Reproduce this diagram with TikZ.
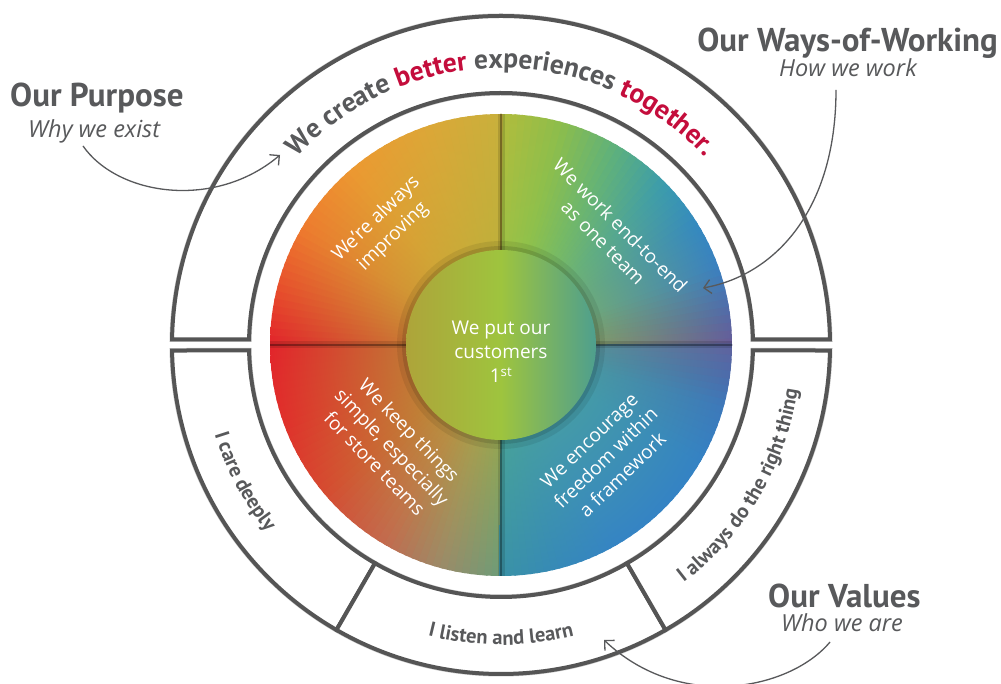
\documentclass[tikz,border=0pt]{standalone}
\usepackage{fontspec}
\setmainfont{Open Sans}
\newfontfamily\pts{PT Sans}
\usetikzlibrary{arrows.meta,decorations.text,calc}
\definecolor{tgray}{HTML}{58595B}
\definecolor{ringgray}{HTML}{555555}
\definecolor{tred}{HTML}{C40D3C}
% angular edge colours
\definecolor{s000}{HTML}{6A5A96}\definecolor{s008}{HTML}{5468A6}\definecolor{s020}{HTML}{3A80C0}
\definecolor{s032}{HTML}{3489C0}\definecolor{s045}{HTML}{3A9BAE}\definecolor{s060}{HTML}{5CB07E}
\definecolor{s075}{HTML}{8CBD4C}\definecolor{s090r}{HTML}{B2BC3C}
\definecolor{s090l}{HTML}{C8B03C}\definecolor{s110}{HTML}{DDA637}\definecolor{s130}{HTML}{EC9931}
\definecolor{s150}{HTML}{EE7A2E}\definecolor{s165}{HTML}{E8512C}\definecolor{s180}{HTML}{E2242B}
\definecolor{s200}{HTML}{E0302B}\definecolor{s220}{HTML}{D64A30}\definecolor{s240}{HTML}{C36A4E}
\definecolor{s255}{HTML}{9C8A68}\definecolor{s270l}{HTML}{6E9C78}
\definecolor{s270r}{HTML}{3A92A6}\definecolor{s285}{HTML}{3689B8}\definecolor{s300}{HTML}{3584C4}
\definecolor{s330}{HTML}{3482C4}\definecolor{s345}{HTML}{3D78BA}\definecolor{s352}{HTML}{4B6CAC}
\definecolor{s360}{HTML}{5F629F}
\definecolor{cTL}{HTML}{B8B03A}\definecolor{cTR}{HTML}{92C44A}
\definecolor{cBL}{HTML}{ADAC3C}\definecolor{cBR}{HTML}{50AC92}
\definecolor{cenL}{HTML}{AEA43A}\definecolor{cenM}{HTML}{9EC43E}\definecolor{cenR}{HTML}{4E9F8E}
\newcommand\wseg[5]{%
  \pgfmathsetmacro\nsteps{int(ceil((#2-#1)/2))}%
  \foreach \k in {1,...,\nsteps}{%
    \pgfmathsetmacro\aa{#1+(\k-1)*(#2-#1)/\nsteps-0.4}%
    \pgfmathsetmacro\bb{#1+\k*(#2-#1)/\nsteps+0.4}%
    \pgfmathsetmacro\pp{int(100*(\k-0.5)/\nsteps)}%
    \colorlet{ec}{#4!\pp!#3}%
    \begin{scope}
      \clip (C) -- ($(C)+(\aa:240)$) arc[start angle=\aa, end angle=\bb, radius=240] -- cycle;
      \shade[inner color=#5, outer color=ec] (C) circle[radius=231];
    \end{scope}
  }%
}
\newcommand\tf{\pts\bfseries\fontsize{27.5}{32}\selectfont\color{tgray}}
\newcommand\tfr{\pts\bfseries\fontsize{27.5}{32}\selectfont\color{tred}}
\newcommand\rt{\pts\bfseries\fontsize{20.5}{24}\selectfont\color{tgray}}
\tikzset{
  ringseg/.style={draw=ringgray, line width=4pt, fill=white, line join=miter},
  ringshadow/.style={draw=black!22, line width=5pt},
  qtext/.style={text=white, align=center, inner sep=0pt, font=\fontsize{19}{24}\selectfont},
  lbl/.style={text=tgray, inner sep=0pt, font=\pts\bfseries\fontsize{33}{36}\selectfont},
  hand/.style={text=tgray, inner sep=0pt, font=\itshape\fontsize{23.5}{26}\selectfont},
  arr/.style={draw=tgray, line width=1.3pt, -{Straight Barb[length=7pt,width=14pt,line width=1.3pt]}},
}
\begin{document}
\begin{tikzpicture}[x=1pt,y=1pt]
\useasboundingbox (0,0) rectangle (1001,684);
\fill[white] (0,0) rectangle (1001,684);
\coordinate (C) at (501,339);
% ---- ring segments: shadows
\begin{scope}[shift={(1.5,-2.5)}]
\draw[ringshadow] ($(C)+(0.96:329)$) arc[start angle=0.96, end angle=179.04, radius=329] -- ($(C)+(178.75:252)$) arc[start angle=178.75, end angle=1.25, radius=252] -- cycle;
\draw[ringshadow] ($(C)+(180.96:329)$) arc[start angle=180.96, end angle=359.04, radius=329] -- ($(C)+(358.75:252)$) arc[start angle=358.75, end angle=181.25, radius=252] -- cycle;
\end{scope}
% ---- ring segments
\draw[ringseg] ($(C)+(0.96:329)$) arc[start angle=0.96, end angle=179.04, radius=329] -- ($(C)+(178.75:252)$) arc[start angle=178.75, end angle=1.25, radius=252] -- cycle;
\draw[ringseg] ($(C)+(180.96:329)$) arc[start angle=180.96, end angle=240, radius=329] -- ($(C)+(240:252)$) arc[start angle=240, end angle=181.25, radius=252] -- cycle;
\draw[ringseg] ($(C)+(240:329)$) arc[start angle=240, end angle=300, radius=329] -- ($(C)+(300:252)$) arc[start angle=300, end angle=240, radius=252] -- cycle;
\draw[ringseg] ($(C)+(300:329)$) arc[start angle=300, end angle=359.04, radius=329] -- ($(C)+(358.75:252)$) arc[start angle=358.75, end angle=300, radius=252] -- cycle;
% ---- coloured disc
\wseg{0}{8}{s000}{s008}{cTR}
\wseg{8}{20}{s008}{s020}{cTR}
\wseg{20}{32}{s020}{s032}{cTR}
\wseg{32}{45}{s032}{s045}{cTR}
\wseg{45}{60}{s045}{s060}{cTR}
\wseg{60}{75}{s060}{s075}{cTR}
\wseg{75}{90}{s075}{s090r}{cTR}
\wseg{90}{110}{s090l}{s110}{cTL}
\wseg{110}{130}{s110}{s130}{cTL}
\wseg{130}{150}{s130}{s150}{cTL}
\wseg{150}{165}{s150}{s165}{cTL}
\wseg{165}{180}{s165}{s180}{cTL}
\wseg{180}{200}{s180}{s200}{cBL}
\wseg{200}{220}{s200}{s220}{cBL}
\wseg{220}{240}{s220}{s240}{cBL}
\wseg{240}{255}{s240}{s255}{cBL}
\wseg{255}{270}{s255}{s270l}{cBL}
\wseg{270}{285}{s270r}{s285}{cBR}
\wseg{285}{300}{s285}{s300}{cBR}
\wseg{300}{330}{s300}{s330}{cBR}
\wseg{330}{345}{s330}{s345}{cBR}
\wseg{345}{352}{s345}{s352}{cBR}
\wseg{352}{360}{s352}{s360}{cBR}
% divider shadows
\begin{scope}
\clip (C) circle[radius=231];
\draw[black, opacity=0.12, line width=7pt] ($(C)+(-231,0)$) -- ($(C)+(231,0)$);
\draw[black, opacity=0.12, line width=7pt] ($(C)+(0,-231)$) -- ($(C)+(0,231)$);
\draw[black, opacity=0.32, line width=1.8pt] ($(C)+(-231,0)$) -- ($(C)+(231,0)$);
\draw[black, opacity=0.32, line width=1.8pt] ($(C)+(0,-231)$) -- ($(C)+(0,231)$);
\fill[black, opacity=0.08] (C) circle[radius=104];
\fill[black, opacity=0.12] (C) circle[radius=99];
\end{scope}
% centre circle (middle color must come last)
\shade[left color=cenL, right color=cenR, middle color=cenM] (C) circle[radius=95];
\node[qtext] (ctr) at ($(C)+(0,-7)$) {We put our\\customers\\1\textsuperscript{st}};
% quadrant texts
\node[qtext, rotate=44] (qtl) at ($(C)+(134.8:165)$) {We’re always\\improving};
\node[qtext, rotate=-45] (qtr) at ($(C)+(45:157)$) {We work end-to-end\\as one team};
\node[qtext, rotate=-46] (qbl) at ($(C)+(223.1:149)$) {We keep things\\simple, especially\\for store teams};
\node[qtext, rotate=44] (qbr) at ($(C)+(312.9:154)$) {We encourage\\freedom within\\a framework};
% ring texts
\path[decorate, decoration={text along path, text align=center,
  text={|\tf|We create |\tfr|better|\tf| experiences |\tfr|together.}}]
  ($(C)+(165:277)$) arc[start angle=165, end angle=15, radius=277];
\path[decorate, decoration={text along path, text align=center, text={|\rt|I care deeply}}]
  ($(C)+(183:300)$) arc[start angle=183, end angle=233, radius=300];
\path[decorate, decoration={text along path, text align=center, text={|\rt|I listen and learn}}]
  ($(C)+(243:300)$) arc[start angle=243, end angle=297, radius=300];
\path[decorate, decoration={text along path, text align=center, text={|\rt|I always do the right thing}}]
  ($(C)+(301:300)$) arc[start angle=301, end angle=358, radius=300];
% labels
\node[lbl, anchor=base west] (purp) at (10,577) {Our Purpose};
\node[hand, anchor=base west] (why) at (28,546) {Why we exist};
\node[lbl, anchor=base east] (ways) at (998,632) {Our Ways-of-Working};
\node[hand, anchor=base] (how) at (848,607) {How we work};
\node[lbl, anchor=base west] (vals) at (768,76) {Our Values};
\node[hand, anchor=base] (who) at (842,52) {Who we are};
% arrows
\coordinate (pA) at (83,538); \coordinate (pB) at (280,529);
\draw[arr] (pA) .. controls (118,488) and (215,474) .. (pB);
\coordinate (wA) at (836,594); \coordinate (wB) at (703,396);
\draw[arr] (wA) .. controls (836,474) and (775,409) .. (wB);
\coordinate (vA) at (830,42); \coordinate (vB) at (604,44);
\draw[arr] (vA) .. controls (790,-6) and (680,-28) .. (vB);
\end{tikzpicture}
\end{document}
